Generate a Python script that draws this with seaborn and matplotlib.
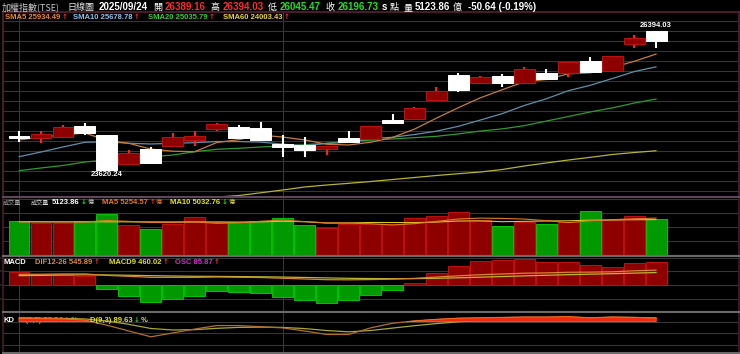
import numpy as np
import pandas as pd
import matplotlib
matplotlib.use("Agg")
import matplotlib.pyplot as plt
import seaborn as sns
from matplotlib.ticker import MultipleLocator, FixedLocator

# ---------------- data ----------------
days = list(range(30))
month_starts = [0, 12]

open_ = [24260, 24252, 24272, 24498, 24318, 23740, 24039, 24099, 24219, 24438,
         24472, 24452, 24139, 24119, 24033, 24252, 24239, 24618, 24638, 25017,
         25516, 25350, 25496, 25350, 25550, 25550, 25801, 25602, 26135, 26389.16]
high = [24398, 24398, 24518, 24552, 24318, 24019, 24085, 24352, 24398, 24552,
        24518, 24584, 24318, 24285, 24105, 24398, 24498, 24738, 24883, 25283,
        25550, 25502, 25530, 25670, 25636, 25781, 25881, 25895, 26314, 26394.03]
low = [24185, 24165, 24272, 24318, 23620.24, 23740, 23765, 24099, 24099, 24398,
       24250, 24225, 23885, 23885, 23919, 24173, 24239, 24552, 24638, 25017,
       25183, 25350, 25283, 25350, 25436, 25482, 25582, 25602, 26049, 26045.47]
close = [24250, 24338, 24484, 24352, 23620.24, 23965, 23765, 24272, 24304, 24532,
         24250, 24225, 24073, 24019, 24105, 24173, 24498, 24552, 24851, 25203,
         25217, 25482, 25362, 25636, 25436, 25781, 25582, 25895, 26247.37, 26196.73]

sma5 = [24219, 24278, 24318, 24358, 24209, 24152, 24037, 23995, 23985, 24168,
        24225, 24317, 24277, 24220, 24134, 24119, 24174, 24269, 24436, 24655,
        24864, 25061, 25223, 25380, 25427, 25539, 25559, 25666, 25788, 25934.49]
sma10 = [23885, 23979, 24079, 24173, 24185, 24153, 24139, 24153, 24165, 24188,
         24188, 24177, 24136, 24103, 24151, 24172, 24245, 24273, 24328, 24395,
         24492, 24617, 24746, 24908, 25041, 25202, 25310, 25445, 25584, 25678.78]
sma20 = [23606, 23660, 23710, 23779, 23819, 23853, 23885, 23919, 23985, 24033,
         24053, 24079, 24099, 24125, 24153, 24190, 24215, 24240, 24265, 24292,
         24340, 24397, 24441, 24505, 24596, 24687, 24778, 24859, 24956, 25035.79]
sma60 = [22760, 22800, 22840, 22880, 22915, 22950, 22985, 23020, 23050, 23080,
         23110, 23165, 23221, 23281, 23320, 23354, 23390, 23430, 23470, 23510,
         23546, 23580, 23630, 23700, 23760, 23819, 23873, 23929, 23969, 24003.43]

volume = [4881, 4511, 4511, 4838, 5792, 4269, 3743, 4411, 5365, 4739,
          4653, 4838, 5265, 4269, 3885, 4454, 4369, 4369, 5222, 5507,
          6162, 4981, 4170, 4739, 4411, 4739, 6304, 4981, 5550, 5123.86]
vol_dir = ["d", "u", "u", "d", "d", "u", "d", "u", "u", "u",
           "d", "d", "d", "d", "u", "u", "u", "u", "u", "u",
           "u", "u", "d", "u", "d", "u", "d", "u", "u", "d"]
vol_ma5 = [4700, 4690, 4680, 4700, 4907, 4784, 4631, 4611, 4716, 4505,
           4582, 4801, 4972, 4753, 4582, 4542, 4448, 4269, 4460, 4784,
           5126, 5248, 5208, 5112, 4893, 4608, 4873, 5035, 5150, 5254.57]
vol_ma10 = [4750, 4740, 4730, 4730, 4720, 4715, 4710, 4705, 4705, 4706,
            4683, 4716, 4791, 4734, 4544, 4562, 4625, 4621, 4606, 4683,
            4834, 4848, 4739, 4786, 4838, 4867, 4950, 4990, 5020, 5032.76]

osc = [49.0, 40.5, 40.5, 34.3, -14.7, -39.4, -60.4, -49.4, -39.4, -21.0,
       -24.7, -27.3, -42.0, -55.3, -64.1, -55.3, -36.9, -17.3, 7.4, 45.3,
       71.1, 89.5, 93.2, 95.8, 85.9, 85.9, 73.7, 68.5, 83.3, 85.87]
macd9 = [347, 357, 367, 376, 372, 362, 347, 335, 325, 320,
         314, 307, 296, 282, 266, 252, 243, 239, 241, 252,
         270, 292, 316, 340, 361, 383, 401, 418, 439, 460.02]
dif = [396, 398, 408, 410, 357, 323, 287, 286, 286, 299,
       289, 280, 254, 227, 202, 197, 206, 222, 248, 297,
       341, 381, 409, 436, 447, 469, 475, 486, 522, 545.89]

k_val = [88, 88, 87, 84, 71, 56, 41, 51, 61, 70,
         70, 67, 64, 56, 47, 47, 64, 76, 82, 86,
         89, 90, 91, 92, 92, 93, 90, 92, 91, 88.94]
d_val = [90, 89.3, 88.6, 87.1, 81.7, 73.2, 62.5, 58.6, 59.4, 62.9,
         65.3, 65.9, 65.3, 62.2, 57.2, 53.8, 57.2, 63.5, 69.7, 75.1,
         79.8, 83.2, 85.8, 87.9, 89.3, 90.5, 90.3, 90.9, 90.9, 89.63]

# ---------------- style ----------------
sns.set_theme(style="dark")
plt.rcParams["font.family"] = ["Liberation Sans", "Noto Sans CJK TC", "DejaVu Sans"]
plt.rcParams["axes.facecolor"] = "black"
plt.rcParams["figure.facecolor"] = "black"

W, H = 740, 354
fig = plt.figure(figsize=(W / 100, H / 100), dpi=100, facecolor="black")
rend = fig.canvas.get_renderer()

GRID = "#363636"
RED_F, RED_E = "#8e0000", "#c01010"
GRN_F, GRN_E = "#009a00", "#00c400"


def px_axes(x0, y0, x1, y1):
    return fig.add_axes([x0 / W, 1 - y1 / H, (x1 - x0) / W, (y1 - y0) / H])


def style(ax, side="#4a1a2c", tb="#6a6a6a", lw_tb=1.5):
    ax.set_facecolor("black")
    ax.set_xlim(-0.728, 32.77)
    ax.tick_params(left=False, bottom=False, labelleft=False, labelbottom=False,
                   right=False, labelright=False)
    ax.set_xlabel("")
    ax.set_ylabel("")
    ax.xaxis.set_major_locator(FixedLocator(month_starts))
    ax.grid(True, color=GRID, lw=0.8)
    ax.set_axisbelow(True)
    for s in ["left", "right"]:
        ax.spines[s].set_color(side)
        ax.spines[s].set_linewidth(1.2)
    for s in ["top", "bottom"]:
        ax.spines[s].set_color(tb)
        ax.spines[s].set_linewidth(lw_tb)


ax_main = px_axes(3, 12.3, 739, 196.7)
ax_vol = px_axes(3, 196.7, 739, 256)
ax_macd = px_axes(3, 256, 739, 312.3)
ax_kd = px_axes(3, 312.3, 739, 352.5)

# ---------------- main price panel ----------------
o = np.array(open_); c = np.array(close); hi = np.array(high); lo = np.array(low)
up = c >= o
sns.lineplot(x=days, y=sma60, ax=ax_main, color="#b4b42e", linewidth=0.9, zorder=2)
sns.lineplot(x=days, y=sma20, ax=ax_main, color="#2e9a2e", linewidth=0.9, zorder=2)
sns.lineplot(x=days, y=sma10, ax=ax_main, color="#5e90ac", linewidth=0.9, zorder=2)
sns.lineplot(x=days, y=sma5, ax=ax_main, color="#c87a3c", linewidth=0.9, zorder=2)

wick_cols = np.where(up, "#ff2020", "#ffffff")
ax_main.vlines(days, lo, hi, colors=wick_cols, linewidth=1.5, zorder=3)
body_h = np.maximum(np.abs(c - o), 40)
body_b = np.minimum(o, c)
ax_main.bar(days, body_h, bottom=body_b, width=0.95,
            color=np.where(up, RED_F, "#ffffff"),
            edgecolor=np.where(up, RED_E, "#ffffff"), linewidth=0.7, zorder=4)
ax_main.set_ylim(23087, 26767)
style(ax_main, side="#5a1f36", tb="#5a1f36", lw_tb=1.2)
ax_main.spines["bottom"].set_color("#5e4658")
ax_main.yaxis.set_major_locator(MultipleLocator(200))

ih = int(np.argmax(hi)); il = int(np.argmin(lo))
ax_main.annotate(f"{hi[ih]:.2f}", xy=(days[ih], hi[ih]), xytext=(0, 1.5),
                 textcoords="offset points", ha="center", va="bottom",
                 color="white", fontsize=5.5, fontweight="bold", zorder=6)
ax_main.annotate(f"{lo[il]:.2f}", xy=(days[il], lo[il]), xytext=(0, -0.5),
                 textcoords="offset points", ha="center", va="top",
                 color="white", fontsize=5.5, fontweight="bold", zorder=6)

# ---------------- volume panel ----------------
vdf = pd.DataFrame({"day": days, "vol": volume, "dir": vol_dir})
sns.barplot(data=vdf, x="day", y="vol", hue="dir", hue_order=["u", "d"],
            palette={"u": RED_F, "d": GRN_F}, native_scale=True, dodge=False,
            width=0.95, saturation=1, legend=False, ax=ax_vol, zorder=2)
for p in ax_vol.patches:
    fc = matplotlib.colors.to_hex(p.get_facecolor())
    p.set_edgecolor(RED_E if fc == RED_F else GRN_E)
    p.set_linewidth(0.7)
sns.lineplot(x=days, y=vol_ma10, ax=ax_vol, color="#d8c820", linewidth=0.8, zorder=3)
sns.lineplot(x=days, y=vol_ma5, ax=ax_vol, color="#e07a2a", linewidth=0.8, zorder=3)
ax_vol.set_ylim(-142, 8296)
style(ax_vol, tb="#6a6a6a")
ax_vol.spines["top"].set_color("#5e4658")
ax_vol.yaxis.set_major_locator(MultipleLocator(2000))

# ---------------- MACD panel ----------------
osc_scale = 9.77  # line units per histogram unit
line_lim = (-972, 1055)
mdf = pd.DataFrame({"day": days, "osc": osc,
                    "sign": ["p" if v >= 0 else "n" for v in osc]})
sns.barplot(data=mdf, x="day", y="osc", hue="sign", hue_order=["p", "n"],
            palette={"p": RED_F, "n": GRN_F}, native_scale=True, dodge=False,
            width=0.95, saturation=1, legend=False, ax=ax_macd, zorder=2)
for p in ax_macd.patches:
    fc = matplotlib.colors.to_hex(p.get_facecolor())
    p.set_edgecolor(RED_E if fc == RED_F else GRN_E)
    p.set_linewidth(0.7)
ax_macd.set_ylim(line_lim[0] / osc_scale, line_lim[1] / osc_scale)
style(ax_macd)
ax_macd.yaxis.set_major_locator(MultipleLocator(500 / osc_scale))

ax_ml = ax_macd.twinx()
ax_ml.patch.set_visible(False)
sns.lineplot(x=days, y=macd9, ax=ax_ml, color="#b8b830", linewidth=0.9)
sns.lineplot(x=days, y=dif, ax=ax_ml, color="#d88434", linewidth=0.9)
ax_ml.set_ylim(*line_lim)
ax_ml.set_xlim(-0.728, 32.77)
ax_ml.axis("off")

# ---------------- KD panel ----------------
kd = np.array(k_val)
sns.lineplot(x=days, y=d_val, ax=ax_kd, color="#a8a830", linewidth=0.9, zorder=2)
sns.lineplot(x=days, y=k_val, ax=ax_kd, color="#b0702c", linewidth=0.9, zorder=2)
ax_kd.fill_between(days, kd, 80, where=kd > 80, interpolate=True,
                   color="#f02a10", linewidth=0.6, edgecolor="#ff6a20", zorder=5)
ax_kd.set_ylim(0.4, 104.3)
style(ax_kd)
ax_kd.yaxis.set_major_locator(FixedLocator([20, 50, 80]))

# ---------------- texts ----------------
CJK = ["Noto Sans CJK TC", "DejaVu Sans"]
LAT = ["Liberation Sans", "DejaVu Sans"]
ARW = ["DejaVu Sans"]


def put(x, yb, s, color, size=5.5, weight="bold", fam=LAT, ax=None, z=3):
    kw = dict(color=color, fontsize=size, fontweight=weight, va="baseline",
              ha="left", family=fam)
    if ax is None:
        t = fig.text(x / W, 1 - yb / H, s, **kw)
    else:
        t = ax.text(x / W, 1 - yb / H, s, transform=fig.transFigure, zorder=z,
                    clip_on=False, **kw)
    return t.get_window_extent(renderer=rend).x1


RED_T, GRN_T = "#ff2a2a", "#22e022"
row1 = [("加權指數(TSE)", "#c8c8c8", CJK, "normal", 6.5, 7),
        ("日線圖", "#e8e8e8", CJK, "normal", 6.5, 5),
        ("2025/09/24", "white", LAT, "bold", 7, 5),
        ("開", "white", CJK, "normal", 6.5, 2.5),
        ("26389.16", RED_T, LAT, "bold", 7, 5),
        ("高", "white", CJK, "normal", 6.5, 2.5),
        ("26394.03", RED_T, LAT, "bold", 7, 5),
        ("低", "white", CJK, "normal", 6.5, 2.5),
        ("26045.47", GRN_T, LAT, "bold", 7, 5),
        ("收", "white", CJK, "normal", 6.5, 2.5),
        ("26196.73", GRN_T, LAT, "bold", 7, 3.5),
        ("s", "white", LAT, "bold", 7, 2.5),
        ("點", "white", CJK, "normal", 6.5, 5),
        ("量", "white", CJK, "normal", 6.5, 2.5),
        ("5123.86", "white", LAT, "bold", 7, 2.5),
        ("億", "white", CJK, "normal", 6.5, 6),
        ("-50.64 (-0.19%)", "white", LAT, "bold", 7, 0)]
x = 2
for s, col, fam, wt, sz, gap in row1:
    x = put(x, 9.8, s, col, size=sz, weight=wt, fam=fam) + gap

sma_items = [(5, "SMA5 25934.49", "#e8893c"), (73, "SMA10 25678.78", "#8cc0e8"),
             (148, "SMA20 25035.79", "#3cc83c"), (223, "SMA60 24003.43", "#e8d23c")]
for xx, s, col in sma_items:
    x1 = put(xx, 19.4, s, col)
    put(x1 + 1.5, 19.4, "↑", RED_T, size=5, fam=ARW)

# volume labels
put(3, 204.4, "成交量", "#a8a8a8", size=4.4, weight="normal", fam=CJK)
put(31, 204.4, "成交量", "#d8d8d8", size=4.4, weight="normal", fam=CJK)
x1 = put(52, 204.4, "5123.86", "white")
x1 = put(x1 + 1, 204.4, "↓", GRN_T, size=5, fam=ARW)
put(x1 + 1, 204.4, "億", "#c8c8c8", size=4.4, weight="normal", fam=CJK)
x1 = put(102, 204.4, "MA5 5254.57", "#e8782c")
x1 = put(x1 + 1.5, 204.4, "↑", RED_T, size=5, fam=ARW)
put(x1 + 1, 204.4, "億", "#e8782c", size=4.4, weight="normal", fam=CJK)
x1 = put(170, 204.4, "MA10 5032.76", "#e0e020")
x1 = put(x1 + 1.5, 204.4, "↓", GRN_T, size=5, fam=ARW)
put(x1 + 1, 204.4, "億", "#e0e020", size=4.4, weight="normal", fam=CJK)

# MACD labels
put(3, 263.8, "MACD", "white")
x1 = put(35, 263.8, "DIF12-26 545.89", "#e08a3a")
put(x1 + 1.5, 263.8, "↑", RED_T, size=5, fam=ARW)
x1 = put(109, 263.8, "MACD9 460.02", "#e0e020")
put(x1 + 1.5, 263.8, "↑", RED_T, size=5, fam=ARW)
x1 = put(175, 263.8, "OSC 85.87", "#d828d8")
put(x1 + 1.5, 263.8, "↑", RED_T, size=5, fam=ARW)

# KD labels (K label sits under the overbought fill)
put(3, 321.8, "KD", "white")
x1 = put(20, 321.8, "K(9,3) 88.94", "#ff6a30", ax=ax_kd, z=1)
x1 = put(x1 + 1, 321.8, "↓", GRN_T, size=5, fam=ARW, ax=ax_kd, z=1)
put(x1 + 1, 321.8, "%", "#ff6a30", ax=ax_kd, z=1)
x1 = put(90, 321.8, "D(9,3) 89.63", "#e0e020", ax=ax_kd, z=6)
x1 = put(x1 + 1, 321.8, "↓", GRN_T, size=5, fam=ARW, ax=ax_kd, z=6)
put(x1 + 1, 321.8, "%", "#e0e020", ax=ax_kd, z=6)

fig.savefig("out.png", dpi=100, facecolor="black")
